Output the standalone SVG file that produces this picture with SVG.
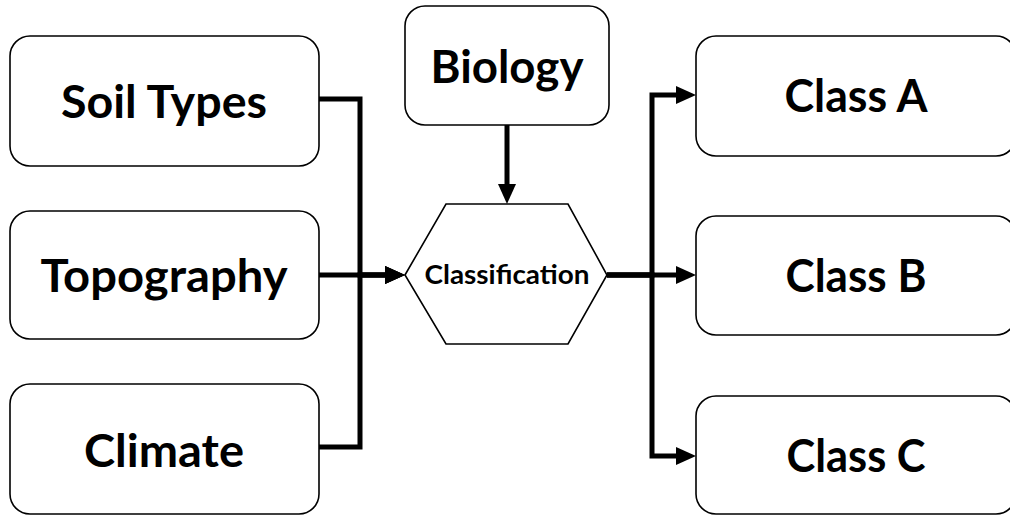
<svg xmlns="http://www.w3.org/2000/svg" width="1010" height="517" viewBox="0 0 1010 517">
<style>
.box{fill:#fff;stroke:#000;stroke-width:1.6}
.lbl{font-family:Lato,"Open Sans","Liberation Sans",sans-serif;font-weight:bold;font-size:46px;fill:#000;text-anchor:middle}
.small{font-size:26px}
.conn{fill:none;stroke:#000;stroke-width:5;stroke-linejoin:miter}
</style>
<defs>
<marker id="arr" markerUnits="userSpaceOnUse" markerWidth="20" markerHeight="18" refX="10" refY="9" orient="auto">
<path d="M0,0 L20,9 L0,18 z" fill="#000"/>
</marker>
</defs>
<rect width="1010" height="517" fill="#fff"/>
<g id="connectors">
<path class="conn" d="M319,99 H360 V275 H395" marker-end="url(#arr)"/>
<path class="conn" d="M319,447 H360 V275 H395" marker-end="url(#arr)"/>
<path class="conn" d="M319,275 H395" marker-end="url(#arr)"/>
<path class="conn" d="M507,125 V194" marker-end="url(#arr)"/>
<path class="conn" d="M607,275 H686" marker-end="url(#arr)"/>
<path class="conn" d="M607,275 H652 V95 H686" marker-end="url(#arr)"/>
<path class="conn" d="M607,275 H652 V456 H686" marker-end="url(#arr)"/>
</g>
<g id="soil-types">
<rect class="box" x="10" y="36" width="309" height="130" rx="20"/>
<text class="lbl" x="164" y="118" textLength="206" lengthAdjust="spacingAndGlyphs">Soil Types</text>
</g>
<g id="topography">
<rect class="box" x="10" y="211" width="309" height="128" rx="20"/>
<text class="lbl" x="164" y="292" textLength="247" lengthAdjust="spacingAndGlyphs">Topography</text>
</g>
<g id="climate">
<rect class="box" x="10" y="384" width="309" height="130" rx="20"/>
<text class="lbl" x="164" y="467" textLength="160" lengthAdjust="spacingAndGlyphs">Climate</text>
</g>
<g id="biology">
<rect class="box" x="405" y="6" width="204" height="119" rx="20"/>
<text class="lbl" x="507" y="83" textLength="153" lengthAdjust="spacingAndGlyphs">Biology</text>
</g>
<g id="classification">
<polygon class="box" points="405,275 446,204 568,204 607,275 568,344 446,344"/>
<text class="lbl small" x="507" y="284" textLength="165" lengthAdjust="spacingAndGlyphs">Classification</text>
</g>
<g id="class-a">
<rect class="box" x="696" y="36" width="320" height="120" rx="20"/>
<text class="lbl" x="856" y="112" textLength="143" lengthAdjust="spacingAndGlyphs">Class A</text>
</g>
<g id="class-b">
<rect class="box" x="696" y="216" width="320" height="119" rx="20"/>
<text class="lbl" x="856" y="292" textLength="141" lengthAdjust="spacingAndGlyphs">Class B</text>
</g>
<g id="class-c">
<rect class="box" x="696" y="396" width="320" height="118" rx="20"/>
<text class="lbl" x="856" y="472" textLength="139" lengthAdjust="spacingAndGlyphs">Class C</text>
</g>
</svg>
